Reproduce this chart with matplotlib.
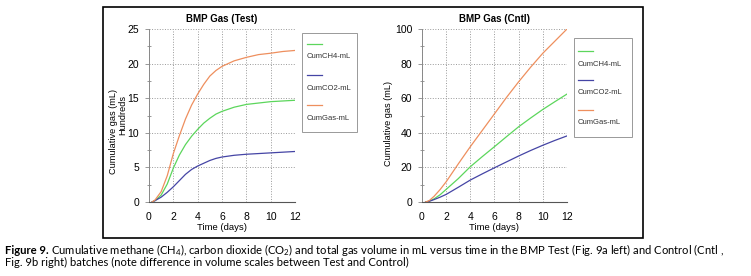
import numpy as np
import matplotlib
matplotlib.use('Agg')
import matplotlib.pyplot as plt
from matplotlib.lines import Line2D
from matplotlib.patches import Rectangle

# Test batch (values in hundreds of mL)
t_test = [0.25, 0.5, 1, 1.5, 2, 2.5, 3, 3.5, 4, 4.5, 5, 5.5, 6, 7, 8, 9, 10, 11, 12]
test_ch4 = [0, 0.2, 1.0, 2.6, 4.9, 6.8, 8.3, 9.5, 10.5, 11.4, 12.1, 12.7, 13.1, 13.7, 14.1, 14.3, 14.5, 14.6, 14.7]
test_co2 = [0, 0.2, 0.7, 1.4, 2.2, 3.1, 4.0, 4.7, 5.2, 5.6, 6.0, 6.3, 6.5, 6.75, 6.9, 7.0, 7.1, 7.2, 7.3]
test_gas = [0, 0.3, 1.5, 3.8, 7.0, 9.6, 12.0, 14.0, 15.6, 17.0, 18.2, 19.0, 19.6, 20.4, 20.9, 21.3, 21.5, 21.75, 21.9]

# Control batch (mL)
t_cntl = [0.3, 0.6, 1, 1.5, 2, 3, 4, 5, 6, 7, 8, 9, 10, 11, 12]
cntl_ch4 = [0, 0.5, 1.8, 4.2, 7.3, 13.5, 20.4, 26.3, 32.0, 37.8, 43.5, 48.6, 53.5, 58.0, 62.4]
cntl_co2 = [0, 0.4, 1.4, 2.8, 4.4, 8.5, 12.7, 16.3, 19.8, 23.2, 26.6, 29.8, 32.8, 35.6, 38.2]
cntl_gas = [0, 0.8, 3.3, 7.2, 11.7, 22.0, 32.0, 41.5, 51.0, 60.5, 69.5, 78.0, 86.0, 93.0, 100.0]

labels = ['CumCH4-mL', 'CumCO2-mL', 'CumGas-mL']
colors = ['#5cd65c', '#4545a5', '#ee8f5e']

plt.rcParams['font.family'] = 'Liberation Sans'
plt.rcParams['mathtext.fontset'] = 'custom'
plt.rcParams['mathtext.rm'] = 'Lato'
plt.rcParams['mathtext.it'] = 'Lato:italic'
plt.rcParams['mathtext.bf'] = 'Lato:bold'

W, H = 751, 276
fig = plt.figure(figsize=(W / 100, H / 100), dpi=100)


def fx(px):
    return px / W


def fy(py):
    return 1 - py / H


def make_axes(x0, x1, title, ymax, ystep, series, t):
    ax = fig.add_axes([fx(x0), fy(202), fx(x1 - x0), (202 - 29) / H])
    for vals, c in zip(series, colors):
        ax.plot(t, vals, color=c, lw=0.9)
    ax.set_xlim(0, 12)
    ax.set_ylim(0, ymax)
    ax.set_xticks(range(0, 13, 2))
    ax.set_yticks(np.arange(0, ymax + 0.1, ystep))
    ax.set_yticks(np.arange(ystep / 2, ymax, ystep), minor=True)
    ax.grid(True, color='#999999', ls=':', lw=0.7)
    for s in ['top', 'right']:
        ax.spines[s].set_visible(False)
    ax.spines['left'].set_color('#888888')
    ax.spines['bottom'].set_color('#555555')
    ax.spines['left'].set_linewidth(0.7)
    ax.spines['bottom'].set_linewidth(0.8)
    ax.tick_params(axis='both', labelsize=7.5, length=3, width=0.6, color='#888888', pad=4)
    ax.tick_params(axis='x', length=0, pad=7)
    ax.tick_params(axis='y', which='minor', direction='inout', length=3, width=0.6, color='#888888')
    ax.set_title(title, fontsize=7, fontweight='bold', pad=5)
    ax.set_xlabel('Time (days)', fontsize=6.8, labelpad=1)
    return ax


ax1 = make_axes(149, 295, 'BMP Gas (Test)', 25, 5, [test_ch4, test_co2, test_gas], t_test)
ax2 = make_axes(422, 567, 'BMP Gas (Cntl)', 100, 20, [cntl_ch4, cntl_co2, cntl_gas], t_cntl)

fig.text(fx(114), fy(131), 'Cumulative gas (mL)', rotation=90, ha='center', va='center', fontsize=6.6)
fig.text(fx(122.5), fy(115), 'Hundreds', rotation=90, ha='center', va='center', fontsize=6.6)
fig.text(fx(388), fy(124), 'Cumulative gas (mL)', rotation=90, ha='center', va='center', fontsize=6.6)


def legend_box(x0, x1, y0, y1, line_y, lx0, lx1):
    fig.add_artist(Rectangle((fx(x0), fy(y1)), fx(x1 - x0), (y1 - y0) / H,
                             fill=False, edgecolor='#999999', lw=0.7))
    for ly, lab, c in zip(line_y, labels, colors):
        fig.add_artist(Line2D([fx(lx0), fx(lx1)], [fy(ly), fy(ly)], color=c, lw=0.9))
        fig.text(fx(lx0), fy(ly + 13), lab, fontsize=5.5, ha='left', va='center', color='#333333')


legend_box(302, 357, 33, 132, [44, 75, 105], 307, 322)
legend_box(574, 632, 38, 137, [51, 80, 110], 578, 593)

# outer frame
fig.add_artist(Rectangle((fx(103), fy(238)), fx(643 - 103), (238 - 7) / H,
                         fill=False, edgecolor='black', lw=1.2))

# caption
cap_font = 'Lato'
r = fig.canvas.get_renderer()
t1 = fig.text(fx(5), fy(250), 'Figure 9.', fontsize=8.15, fontweight='bold', family=cap_font,
              ha='left', va='center')
bb = t1.get_window_extent(renderer=r)
fig.text(bb.x1 / W + fx(2), fy(250),
         'Cumulative methane (CH$_4$), carbon dioxide (CO$_2$) and total gas volume in mL versus time '
         'in the BMP Test (Fig. 9a left) and Control (Cntl ,',
         fontsize=8.15, family=cap_font, ha='left', va='center')
fig.text(fx(5), fy(262),
         'Fig. 9b right) batches (note difference in volume scales between Test and Control)',
         fontsize=8.15, family=cap_font, ha='left', va='center')

plt.savefig('out.png', dpi=100)
plt.close()
